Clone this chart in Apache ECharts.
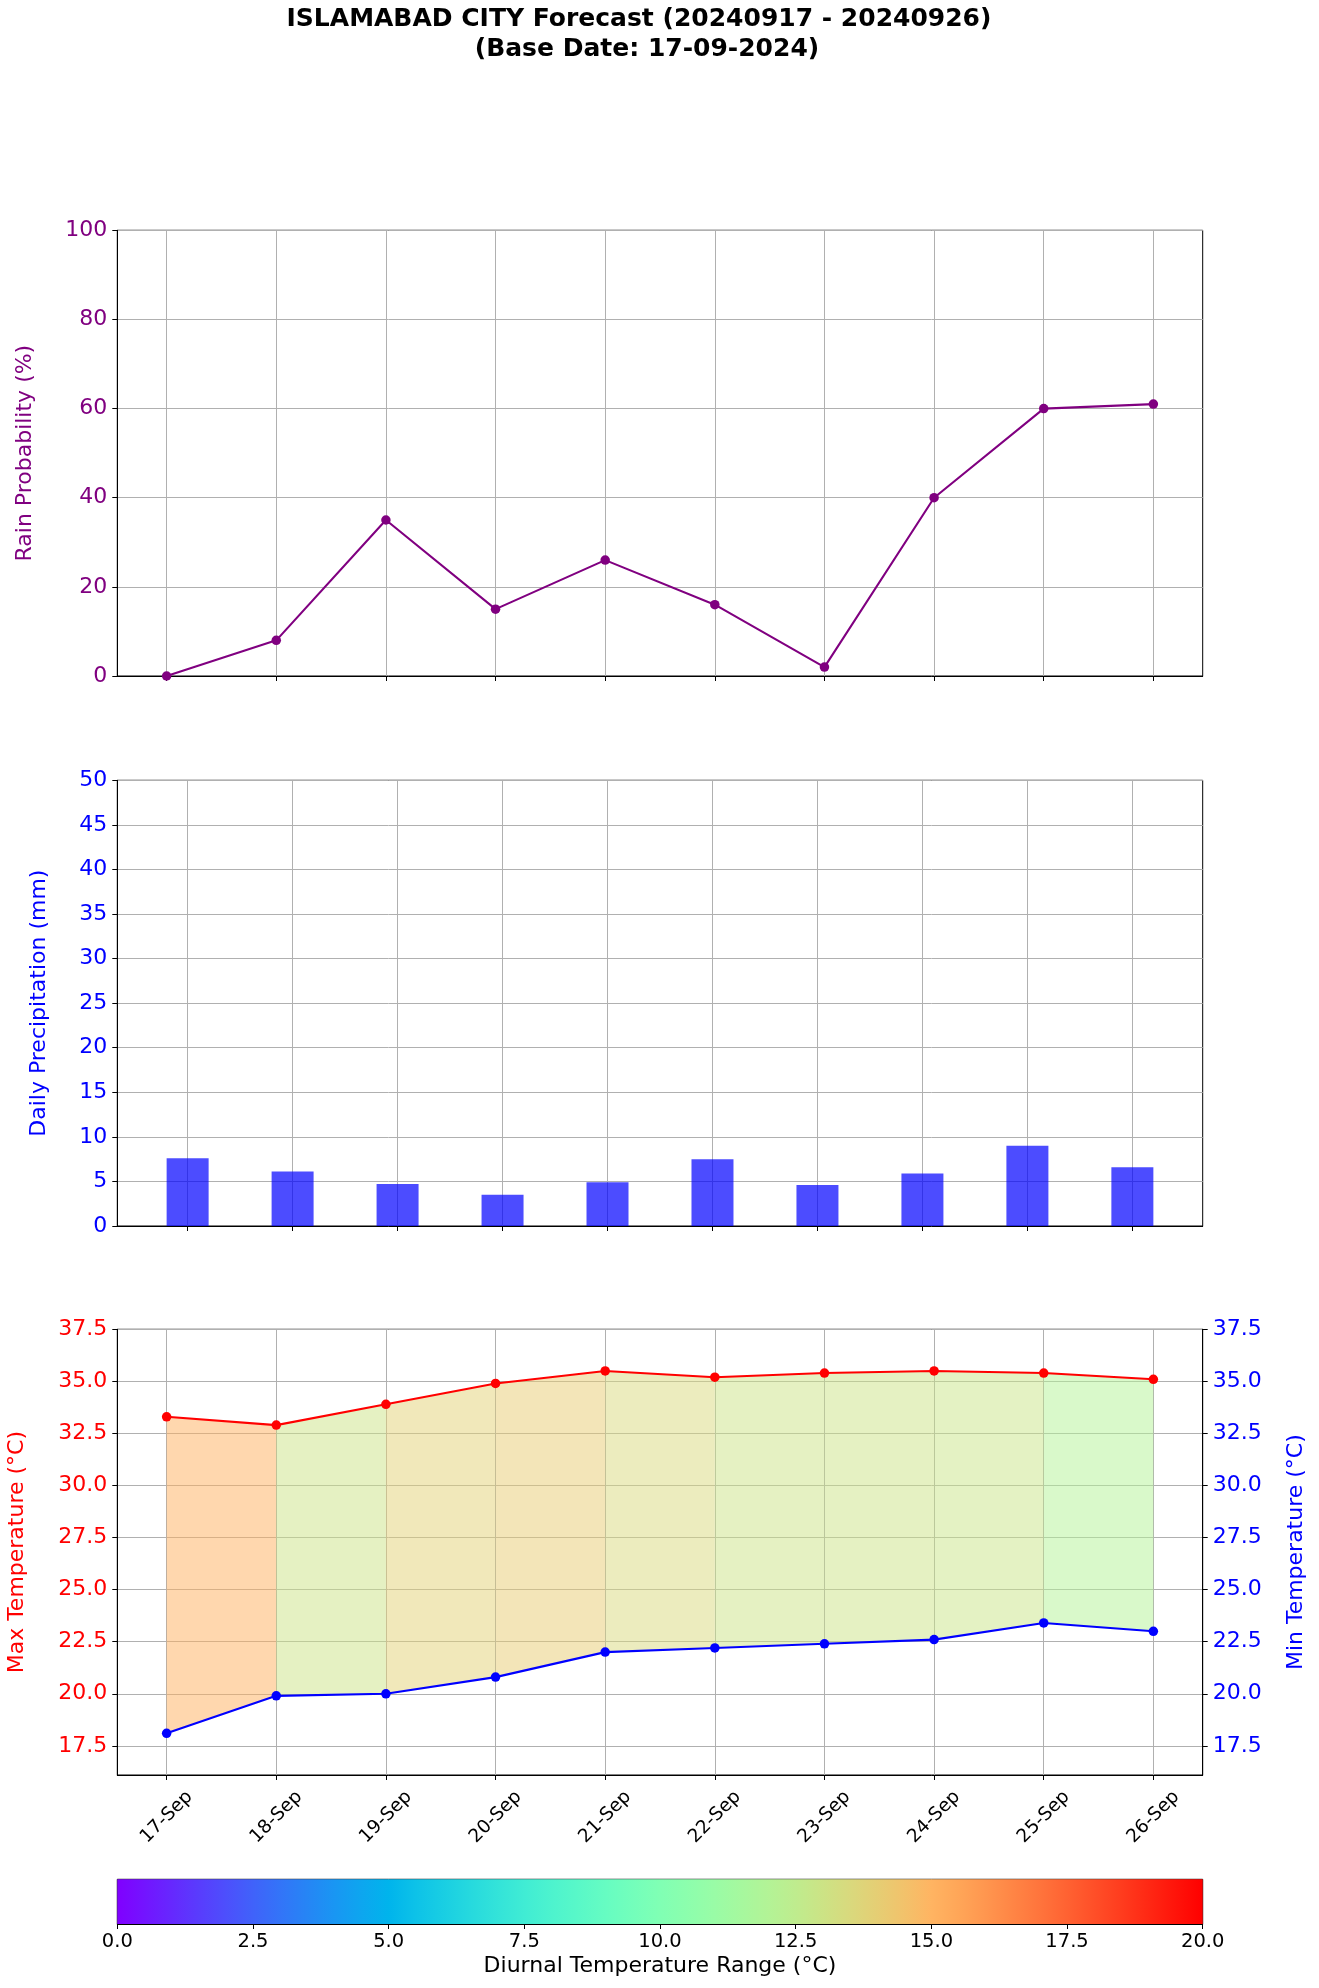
<!DOCTYPE html>
<html>
<head>
<meta charset="utf-8">
<script src="https://cdn.jsdelivr.net/npm/echarts@6/dist/echarts.min.js"></script>
<style>
html,body{margin:0;padding:0;background:#fff;}
#chart{width:1319px;height:1988px;}
</style>
</head>
<body>
<div id="chart"></div>
<script>
// ---------------- data ----------------
const dates = ['17-Sep','18-Sep','19-Sep','20-Sep','21-Sep','22-Sep','23-Sep','24-Sep','25-Sep','26-Sep'];
const rainProb = [0, 8, 35, 15, 26, 16, 2, 40, 60, 61];
const precip = [7.6, 6.1, 4.7, 3.5, 4.9, 7.5, 4.6, 5.9, 9.0, 6.6];
const maxTemp = [33.3, 32.9, 33.9, 34.9, 35.5, 35.2, 35.4, 35.5, 35.4, 35.1];
const minTemp = [18.1, 19.9, 20.0, 20.8, 22.0, 22.2, 22.4, 22.6, 23.4, 23.0];
const tempTicks = [17.5, 20, 22.5, 25, 27.5, 30, 32.5, 35, 37.5];
const rangeTicks = [0, 2.5, 5, 7.5, 10, 12.5, 15, 17.5, 20];

// ---------------- helpers ----------------
const FONT = 'DejaVu Sans';
const GL = 117.3, GW = 1085.4, GH = 445.7;
const tops = [230.3, 780.3, 1329.3];
const RMIN = rangeTicks[0], RMAX = rangeTicks[rangeTicks.length - 1];
const TICKFS = 22;

function rainbow(t, a) {
  t = Math.max(0, Math.min(1, t));
  const r = Math.min(1, Math.abs(2 * t - 0.5));
  const g = Math.sin(Math.PI * t);
  const b = Math.cos(Math.PI * t / 2);
  return 'rgba(' + Math.round(r * 255) + ',' + Math.round(g * 255) + ',' + Math.round(b * 255) + ',' + a + ')';
}
const dayIdx = dates.map((d, i) => i);
const diurnal = maxTemp.map((v, i) => v - minTemp[i]);
const fillData = dates.slice(0, -1).map((d, i) => [i, i + 1, maxTemp[i], minTemp[i], maxTemp[i + 1], minTemp[i + 1], diurnal[i]]);

const gridBase = { left: GL, width: GW, height: GH, show: true, borderColor: '#000', borderWidth: 1, containLabel: false, outerBoundsMode: 'none' };
const tickStyle = { show: true, length: 5, inside: false, lineStyle: { color: '#000', width: 1 } };
const gridLine = { show: true, lineStyle: { color: '#b0b0b0', width: 1 } };
const axLine = { show: true, onZero: false, lineStyle: { color: '#000', width: 1 } };

function xDays(gi, min, max, withLabels) {
  return {
    gridIndex: gi, type: 'value', min: min, max: max,
    axisLine: axLine,
    axisTick: Object.assign({}, tickStyle, { customValues: dayIdx }),
    axisLabel: withLabels ? {
      show: true, customValues: dayIdx, rotate: 45, align: 'center', verticalAlign: 'middle',
      margin: 42, fontSize: 18.5, fontFamily: FONT, color: '#000',
      formatter: v => dates[Math.round(v)]
    } : { show: false, customValues: dayIdx },
    splitLine: gridLine
  };
}

const stops = [];
for (let k = 0; k <= 40; k++) stops.push({ offset: k / 40, color: rainbow(k / 40, 1) });

const option = {
  animation: false,
  backgroundColor: '#fff',
  title: [
    { text: 'ISLAMABAD CITY Forecast (20240917 - 20240926)', left: 639, top: 7, textAlign: 'center', padding: 0,
      textStyle: { fontFamily: FONT, fontSize: 25, fontWeight: 'bold', color: '#000' } },
    { text: '(Base Date: 17-09-2024)', left: 647, top: 37, textAlign: 'center', padding: 0,
      textStyle: { fontFamily: FONT, fontSize: 25, fontWeight: 'bold', color: '#000' } }
  ],
  grid: [
    Object.assign({}, gridBase, { top: tops[0] }),
    Object.assign({}, gridBase, { top: tops[1] }),
    Object.assign({}, gridBase, { top: tops[2] }),
    Object.assign({}, gridBase, { top: 1879.3, height: 44.7 })
  ],
  xAxis: [
    xDays(0, -0.45, 9.45, false),
    xDays(1, -0.67, 9.67, false),
    xDays(2, -0.45, 9.45, true),
    {
      gridIndex: 3, type: 'value', min: RMIN, max: RMAX, interval: 2.5,
      axisLine: axLine, axisTick: tickStyle, splitLine: { show: false },
      axisLabel: { fontSize: 19.5, fontFamily: FONT, color: '#000', margin: 8, formatter: v => v.toFixed(1) },
      name: 'Diurnal Temperature Range (°C)', nameLocation: 'middle', nameGap: 42,
      nameTextStyle: { fontSize: 22, fontFamily: FONT, color: '#000', verticalAlign: 'middle' }
    }
  ],
  yAxis: [
    {
      gridIndex: 0, type: 'value', min: 0, max: 100, interval: 20,
      axisLine: axLine, axisTick: tickStyle, splitLine: gridLine,
      axisLabel: { fontSize: TICKFS, fontFamily: FONT, color: '#800080', margin: 10 },
      name: 'Rain Probability (%)', nameLocation: 'middle', nameRotate: 90, nameGap: 92,
      nameTextStyle: { fontSize: 22, fontFamily: FONT, color: '#800080', verticalAlign: 'middle' }
    },
    {
      gridIndex: 1, type: 'value', min: 0, max: 50, interval: 5,
      axisLine: axLine, axisTick: tickStyle, splitLine: gridLine,
      axisLabel: { fontSize: TICKFS, fontFamily: FONT, color: '#0000ff', margin: 10 },
      name: 'Daily Precipitation (mm)', nameLocation: 'middle', nameRotate: 90, nameGap: 78,
      nameTextStyle: { fontSize: 22, fontFamily: FONT, color: '#0000ff', verticalAlign: 'middle' }
    },
    {
      gridIndex: 2, type: 'value', min: 16.1, max: 37.5, position: 'left',
      axisLine: axLine, axisTick: Object.assign({}, tickStyle, { customValues: tempTicks }), splitLine: gridLine,
      axisLabel: { customValues: tempTicks, fontSize: TICKFS, fontFamily: FONT, color: '#ff0000', margin: 10, formatter: v => v.toFixed(1) },
      name: 'Max Temperature (°C)', nameLocation: 'middle', nameRotate: 90, nameGap: 100,
      nameTextStyle: { fontSize: 22, fontFamily: FONT, color: '#ff0000', verticalAlign: 'middle' }
    },
    {
      gridIndex: 2, type: 'value', min: 16.1, max: 37.5, position: 'right',
      axisLine: axLine, axisTick: Object.assign({}, tickStyle, { customValues: tempTicks }), splitLine: { show: false },
      axisLabel: { customValues: tempTicks, fontSize: TICKFS, fontFamily: FONT, color: '#0000ff', margin: 10, formatter: v => v.toFixed(1) },
      name: 'Min Temperature (°C)', nameLocation: 'middle', nameRotate: 90, nameGap: 94,
      nameTextStyle: { fontSize: 22, fontFamily: FONT, color: '#0000ff', verticalAlign: 'middle' }
    },
    { gridIndex: 3, type: 'value', min: 0, max: 1, show: false }
  ],
  series: [
    {
      type: 'line', xAxisIndex: 0, yAxisIndex: 0,
      data: rainProb.map((v, i) => [i, v]),
      symbol: 'circle', symbolSize: 9.5, showSymbol: true,
      lineStyle: { color: '#800080', width: 2.1 }, itemStyle: { color: '#800080' }, z: 5
    },
    {
      type: 'bar', xAxisIndex: 1, yAxisIndex: 1,
      data: precip.map((v, i) => [i, v]),
      barWidth: 42, itemStyle: { color: 'rgba(0,0,255,0.7)' }, z: 3
    },
    {
      type: 'custom', xAxisIndex: 2, yAxisIndex: 2,
      data: fillData, encode: { x: [0, 1], y: [2, 3, 4, 5] },
      renderItem: function (params, api) {
        const a = api.coord([api.value(0), api.value(2)]);
        const b = api.coord([api.value(1), api.value(4)]);
        const c = api.coord([api.value(1), api.value(5)]);
        const d = api.coord([api.value(0), api.value(3)]);
        return { type: 'polygon', shape: { points: [a, b, c, d] },
          style: { fill: rainbow((api.value(6) - RMIN) / (RMAX - RMIN), 0.5), stroke: null } };
      },
      z: 1, silent: true
    },
    {
      type: 'line', xAxisIndex: 2, yAxisIndex: 2,
      data: maxTemp.map((v, i) => [i, v]),
      symbol: 'circle', symbolSize: 9.5, showSymbol: true,
      lineStyle: { color: '#ff0000', width: 2.1 }, itemStyle: { color: '#ff0000' }, z: 5
    },
    {
      type: 'line', xAxisIndex: 2, yAxisIndex: 3,
      data: minTemp.map((v, i) => [i, v]),
      symbol: 'circle', symbolSize: 9.5, showSymbol: true,
      lineStyle: { color: '#0000ff', width: 2.1 }, itemStyle: { color: '#0000ff' }, z: 5
    },
    {
      type: 'custom', xAxisIndex: 3, yAxisIndex: 4,
      data: [[RMIN, RMAX]], encode: { x: [0, 1] },
      renderItem: function (params, api) {
        const p0 = api.coord([api.value(0), 1]);
        const p1 = api.coord([api.value(1), 0]);
        return { type: 'rect', shape: { x: p0[0], y: p0[1], width: p1[0] - p0[0], height: p1[1] - p0[1] },
          style: { fill: new echarts.graphic.LinearGradient(0, 0, 1, 0, stops) } };
      },
      z: 1, silent: true
    }
  ]
};

const chart = echarts.init(document.getElementById('chart'), null, { renderer: 'canvas' });
chart.setOption(option);
</script>
</body>
</html>
